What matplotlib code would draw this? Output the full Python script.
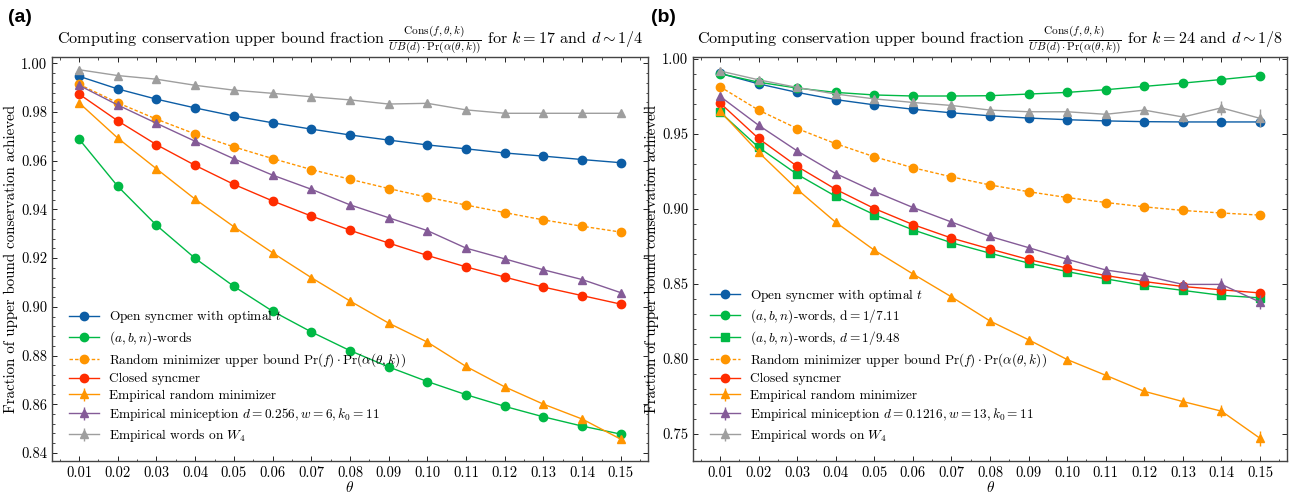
import numpy as np
import matplotlib
matplotlib.use("Agg")
import matplotlib.pyplot as plt
from matplotlib.ticker import AutoMinorLocator, FormatStrFormatter

plt.rcParams['font.family'] = 'serif'
plt.rcParams['font.serif'] = ['cmr10']
plt.rcParams['mathtext.fontset'] = 'cm'
plt.rcParams['axes.formatter.use_mathtext'] = True

# colours (science style)
BLUE = '#0C5DA5'
GREEN = '#00B945'
ORANGE = '#FF9500'
RED = '#FF2C00'
PURPLE = '#845B97'
GRAY = '#9e9e9e'

theta = [0.01, 0.02, 0.03, 0.04, 0.05, 0.06, 0.07, 0.08,
         0.09, 0.10, 0.11, 0.12, 0.13, 0.14, 0.15]

# ---- panel (a): k = 17, d ~ 1/4
a_open = [0.9947, 0.9895, 0.9853, 0.9817, 0.9784, 0.9756, 0.9730, 0.9706,
          0.9685, 0.9665, 0.9649, 0.9632, 0.9619, 0.9605, 0.9592]
a_words = [0.9689, 0.9495, 0.9335, 0.9199, 0.9084, 0.8982, 0.8897, 0.8820,
           0.8753, 0.8693, 0.8639, 0.8591, 0.8548, 0.8510, 0.8477]
a_ub = [0.9914, 0.9838, 0.9771, 0.9710, 0.9657, 0.9609, 0.9564, 0.9524,
        0.9486, 0.9450, 0.9418, 0.9387, 0.9357, 0.9331, 0.9307]
a_closed = [0.9874, 0.9764, 0.9666, 0.9581, 0.9503, 0.9435, 0.9373, 0.9315,
            0.9262, 0.9211, 0.9164, 0.9122, 0.9081, 0.9046, 0.9011]
a_rand = [0.9838, 0.9693, 0.9567, 0.9442, 0.9329, 0.9222, 0.9120, 0.9024,
          0.8933, 0.8855, 0.8755, 0.8671, 0.8600, 0.8539, 0.8456]
a_rand_err = [0.0003, 0.0003, 0.0003, 0.0003, 0.0003, 0.0004, 0.0004, 0.0004,
              0.0004, 0.0005, 0.0005, 0.0005, 0.0005, 0.0006, 0.0008]
a_minic = [0.9910, 0.9829, 0.9754, 0.9680, 0.9608, 0.9541, 0.9483, 0.9419,
           0.9366, 0.9313, 0.9241, 0.9197, 0.9152, 0.9112, 0.9058]
a_minic_err = [0.0003, 0.0003, 0.0003, 0.0003, 0.0003, 0.0003, 0.0004, 0.0004,
               0.0004, 0.0004, 0.0005, 0.0005, 0.0005, 0.0006, 0.0007]
a_w4 = [0.9974, 0.9950, 0.9935, 0.9910, 0.9890, 0.9877, 0.9863, 0.9850,
        0.9833, 0.9836, 0.9809, 0.9795, 0.9795, 0.9795, 0.9795]
a_w4_err = [0.0002, 0.0002, 0.0002, 0.0002, 0.0003, 0.0003, 0.0003, 0.0003,
            0.0003, 0.0004, 0.0004, 0.0004, 0.0005, 0.0005, 0.0006]

# ---- panel (b): k = 24, d ~ 1/8
b_open = [0.9903, 0.9833, 0.9776, 0.9728, 0.9693, 0.9664, 0.9640, 0.9620,
          0.9605, 0.9594, 0.9586, 0.9581, 0.9579, 0.9579, 0.9579]
b_words7 = [0.9901, 0.9844, 0.9805, 0.9776, 0.9759, 0.9752, 0.9752, 0.9754,
            0.9765, 0.9776, 0.9794, 0.9816, 0.9838, 0.9862, 0.9888]
b_words9 = [0.9645, 0.9410, 0.9230, 0.9083, 0.8961, 0.8860, 0.8774, 0.8704,
            0.8638, 0.8581, 0.8533, 0.8489, 0.8456, 0.8423, 0.8406]
b_ub = [0.9814, 0.9658, 0.9535, 0.9434, 0.9347, 0.9274, 0.9213, 0.9159,
        0.9114, 0.9075, 0.9042, 0.9013, 0.8989, 0.8972, 0.8958]
b_closed = [0.9706, 0.9469, 0.9283, 0.9130, 0.9002, 0.8895, 0.8805, 0.8732,
            0.8662, 0.8605, 0.8555, 0.8515, 0.8482, 0.8460, 0.8439]
b_rand = [0.9651, 0.9377, 0.9130, 0.8910, 0.8724, 0.8566, 0.8413, 0.8252,
          0.8127, 0.7995, 0.7890, 0.7783, 0.7715, 0.7651, 0.7470]
b_rand_err = [0.0005, 0.0005, 0.0006, 0.0006, 0.0007, 0.0008, 0.0009, 0.0010,
              0.0012, 0.0013, 0.0015, 0.0020, 0.0030, 0.0040, 0.0050]
b_minic = [0.9750, 0.9557, 0.9386, 0.9235, 0.9116, 0.9009, 0.8912, 0.8816,
           0.8741, 0.8664, 0.8592, 0.8555, 0.8496, 0.8496, 0.8378]
b_minic_err = [0.0005, 0.0005, 0.0006, 0.0006, 0.0007, 0.0008, 0.0009, 0.0010,
               0.0012, 0.0014, 0.0016, 0.0020, 0.0030, 0.0040, 0.0045]
b_w4 = [0.9919, 0.9860, 0.9809, 0.9765, 0.9733, 0.9709, 0.9689, 0.9658,
        0.9647, 0.9647, 0.9630, 0.9658, 0.9612, 0.9673, 0.9603]
b_w4_err = [0.0004, 0.0005, 0.0005, 0.0006, 0.0007, 0.0008, 0.0009, 0.0010,
            0.0012, 0.0014, 0.0016, 0.0022, 0.0030, 0.0045, 0.0060]

ub_label = r'Random minimizer upper bound $\mathrm{Pr}(f)\cdot\mathrm{Pr}(\alpha(\theta,k))$'
title_frac = r'$\frac{\mathrm{Cons}(f,\theta,k)}{UB(d)\cdot\mathrm{Pr}(\alpha(\theta,k))}$'

fig = plt.figure(figsize=(12.9, 4.94), dpi=100)
axA = fig.add_axes([0.0403, 0.066, 0.4620, 0.818])
axB = fig.add_axes([0.5372, 0.066, 0.4605, 0.818])

ms = 6
lw = 1.0
leg_fs = 9.6
dash = (0, (2.5, 1.5))


def style(ax, ylim, yticks):
    ax.set_xlim(0.003, 0.157)
    ax.set_ylim(*ylim)
    ax.set_xticks(theta)
    ax.set_yticks(yticks)
    ax.xaxis.set_major_formatter(FormatStrFormatter('%.2f'))
    ax.yaxis.set_major_formatter(FormatStrFormatter('%.2f'))
    ax.xaxis.set_minor_locator(AutoMinorLocator(2))
    ax.yaxis.set_minor_locator(AutoMinorLocator(5))
    ax.tick_params(which='both', direction='in', top=True, right=True, labelsize=10.5)
    ax.tick_params(which='major', length=3.5, width=0.6)
    ax.tick_params(which='minor', length=1.8, width=0.5)
    for s in ax.spines.values():
        s.set_linewidth(1.0)
        s.set_color('#444444')
    ax.set_xlabel(r'$\theta$', fontsize=11, labelpad=0)
    ax.set_ylabel('Fraction of upper bound conservation achieved', fontsize=10.8, labelpad=2)


# panel (a)
axA.plot(theta, a_open, '-o', color=BLUE, lw=lw, ms=ms, label=r'Open syncmer with optimal $t$')
axA.plot(theta, a_words, '-o', color=GREEN, lw=lw, ms=ms, label=r'$(a,b,n)$-words')
axA.plot(theta, a_ub, marker='o', ls=dash, color=ORANGE, lw=lw, ms=ms, label=ub_label)
axA.plot(theta, a_closed, '-o', color=RED, lw=lw, ms=ms, label='Closed syncmer')
axA.errorbar(theta, a_rand, yerr=a_rand_err, fmt='-^', color=ORANGE, lw=lw, ms=ms,
             label='Empirical random minimizer')
axA.errorbar(theta, a_minic, yerr=a_minic_err, fmt='-^', color=PURPLE, lw=lw, ms=ms,
             label=r'Empirical miniception $d = 0.256, w = 6, k_0 = 11$')
axA.errorbar(theta, a_w4, yerr=a_w4_err, fmt='-^', color=GRAY, lw=lw, ms=ms,
             label=r'Empirical words on $W_4$')
style(axA, (0.8365, 1.0025), [0.84, 0.86, 0.88, 0.90, 0.92, 0.94, 0.96, 0.98, 1.00])
axA.set_title('Computing conservation upper bound fraction ' + title_frac +
              r' for $k = 17$ and $d \sim 1/4$', fontsize=11.6, pad=5)
axA.legend(loc='lower left', frameon=False, fontsize=leg_fs, handlelength=2.2,
           labelspacing=0.3, borderaxespad=0.9)

# panel (b)
axB.plot(theta, b_open, '-o', color=BLUE, lw=lw, ms=ms, label=r'Open syncmer with optimal $t$')
axB.plot(theta, b_words7, '-o', color=GREEN, lw=lw, ms=ms, label=r'$(a,b,n)$-words, $\mathrm{d} = 1/7.11$')
axB.plot(theta, b_words9, '-s', color=GREEN, lw=lw, ms=ms - 0.5, label=r'$(a,b,n)$-words, $d = 1/9.48$')
axB.plot(theta, b_ub, marker='o', ls=dash, color=ORANGE, lw=lw, ms=ms, label=ub_label)
axB.plot(theta, b_closed, '-o', color=RED, lw=lw, ms=ms, label='Closed syncmer')
axB.errorbar(theta, b_rand, yerr=b_rand_err, fmt='-^', color=ORANGE, lw=lw, ms=ms,
             label='Empirical random minimizer')
axB.errorbar(theta, b_minic, yerr=b_minic_err, fmt='-^', color=PURPLE, lw=lw, ms=ms,
             label=r'Empirical miniception $d = 0.1216, w = 13, k_0 = 11$')
axB.errorbar(theta, b_w4, yerr=b_w4_err, fmt='-^', color=GRAY, lw=lw, ms=ms,
             label=r'Empirical words on $W_4$')
style(axB, (0.7316, 1.001), [0.75, 0.80, 0.85, 0.90, 0.95, 1.00])
axB.set_title('Computing conservation upper bound fraction ' + title_frac +
              r' for $k = 24$ and $d \sim 1/8$', fontsize=11.6, pad=5)
axB.legend(loc='lower left', frameon=False, fontsize=leg_fs, handlelength=2.2,
           labelspacing=0.3, borderaxespad=0.9)

fig.text(0.006, 0.955, '(a)', fontsize=14, fontweight='bold', family='Liberation Sans')
fig.text(0.505, 0.955, '(b)', fontsize=14, fontweight='bold', family='Liberation Sans')

fig.savefig('out.png', dpi=100)
